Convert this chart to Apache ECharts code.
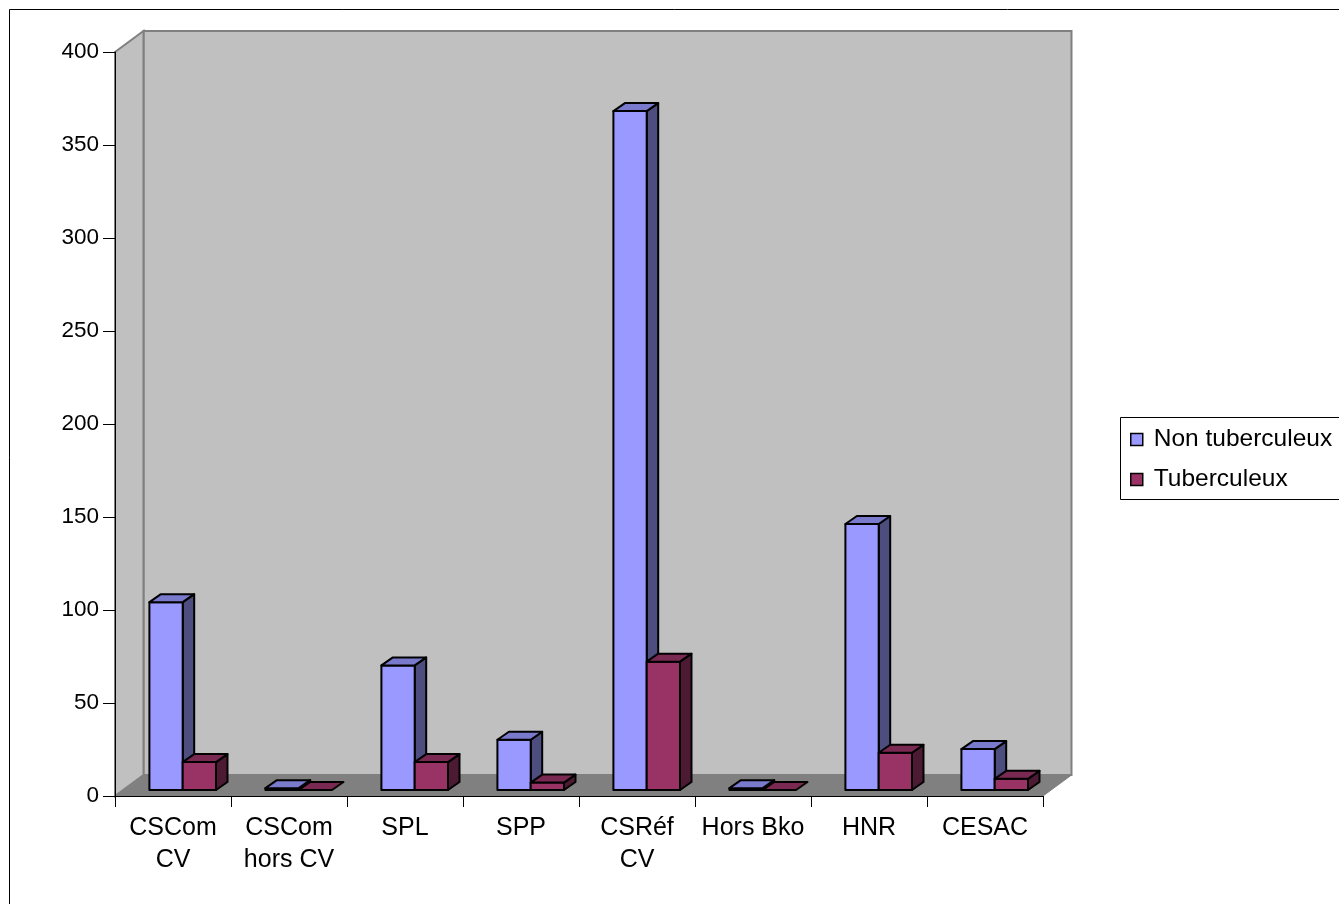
<!DOCTYPE html>
<html>
<head>
<meta charset="utf-8">
<script src="https://cdn.jsdelivr.net/npm/echarts@6/dist/echarts.min.js"></script>
<style>
  html, body { margin: 0; padding: 0; background: #ffffff; }
  #chart { width: 1339px; height: 904px; }
</style>
</head>
<body>
<div id="chart"></div>
<script>
// Patients by care structure
const categories = ['CSCom\nCV', 'CSCom\nhors CV', 'SPL', 'SPP', 'CSRéf\nCV', 'Hors Bko', 'HNR', 'CESAC'];
const seriesNames = ['Non tuberculeux', 'Tuberculeux'];
const nonTuberculeux = [101, 1, 67, 27, 365, 1, 143, 22];
const tuberculeux = [15, 0, 15, 4, 69, 0, 20, 6];
const yMin = 0, yMax = 400, yStep = 50;

// 3D look: wall depth, bar plane offset, bar depth
const WALL_DX = 28.5, WALL_DY = -21;
const BAR_OX = 9.7, BAR_OY = -6;
const BAR_DX = 11.5, BAR_DY = -8;
const BAR_W = 0.287;
const FONT = "'Liberation Sans', Arial, sans-serif";

const palette = [
  { front: '#9999FF', top: '#7A7ACC', side: '#4D4D80' },
  { front: '#993366', top: '#7A2952', side: '#4D1A33' }
];

function renderWalls(params, api) {
  const cs = params.coordSys;
  const x0 = cs.x, x1 = cs.x + cs.width, yT = cs.y, yB = cs.y + cs.height;
  const dx = WALL_DX, dy = WALL_DY;
  return {
    type: 'group',
    children: [
      { type: 'polygon', shape: { points: [[x0 + dx, yT + dy], [x1 + dx, yT + dy], [x1 + dx, yB + dy], [x0 + dx, yB + dy]] },
        style: { fill: '#C0C0C0', stroke: '#808080', lineWidth: 2 } },
      { type: 'polygon', shape: { points: [[x0, yT], [x0 + dx, yT + dy], [x0 + dx, yB + dy], [x0, yB]] },
        style: { fill: '#C0C0C0', stroke: '#808080', lineWidth: 2 } },
      { type: 'polygon', shape: { points: [[x0, yB], [x0 + dx, yB + dy], [x1 + dx, yB + dy], [x1, yB]] },
        style: { fill: '#808080', stroke: '#808080', lineWidth: 1 } }
    ]
  };
}

function barRenderer(slot) {
  const c = palette[slot];
  return function (params, api) {
    const cat = api.value(0), val = api.value(1);
    const base = api.coord([cat, 0]);
    const head = api.coord([cat, val]);
    const w = api.size([1, 0])[0] * BAR_W;
    const xa = base[0] + BAR_OX + (slot - 1) * w;
    const xb = xa + w;
    const yb = base[1] + BAR_OY;
    const yt = head[1] + BAR_OY;
    const dx = BAR_DX, dy = BAR_DY;
    const line = { stroke: '#000', lineWidth: 2, lineJoin: 'round' };
    const kids = [];
    if (yb - yt > 0.1) {
      kids.push({ type: 'polygon', shape: { points: [[xb, yb], [xb + dx, yb + dy], [xb + dx, yt + dy], [xb, yt]] },
        style: Object.assign({ fill: c.side }, line) });
      kids.push({ type: 'polygon', shape: { points: [[xa, yb], [xb, yb], [xb, yt], [xa, yt]] },
        style: Object.assign({ fill: c.front }, line) });
    }
    kids.push({ type: 'polygon', shape: { points: [[xa, yt], [xb, yt], [xb + dx, yt + dy], [xa + dx, yt + dy]] },
      style: Object.assign({ fill: c.top }, line) });
    return { type: 'group', children: kids };
  };
}

const chart = echarts.init(document.getElementById('chart'), null, { renderer: 'canvas' });

chart.setOption({
  animation: false,
  backgroundColor: '#ffffff',
  textStyle: { fontFamily: FONT },
  grid: { left: 115, right: 296, top: 52, bottom: 108, containLabel: false, outerBoundsMode: 'none' },
  xAxis: {
    type: 'category',
    data: categories,
    boundaryGap: true,
    z: 5,
    axisLine: { show: true, lineStyle: { color: '#000', width: 1 } },
    axisTick: { show: true, length: 11, alignWithLabel: false, interval: 0, lineStyle: { color: '#000', width: 1 } },
    axisLabel: { interval: 0, fontSize: 25, lineHeight: 32, margin: 16, color: '#000', fontFamily: FONT },
    splitLine: { show: false }
  },
  yAxis: {
    type: 'value',
    min: yMin, max: yMax, interval: yStep,
    z: 5,
    axisLine: { show: true, lineStyle: { color: '#000', width: 1 } },
    axisTick: { show: true, inside: false, length: 12, lineStyle: { color: '#000', width: 1 } },
    axisLabel: { fontSize: 22.5, margin: 16, color: '#000', fontFamily: FONT },
    splitLine: { show: false }
  },
  legend: {
    orient: 'vertical',
    left: 1130, top: 427,
    padding: 0,
    itemWidth: 12, itemHeight: 12, itemGap: 15,
    icon: 'rect',
    selectedMode: false,
    itemStyle: { borderColor: '#000', borderWidth: 1.5 },
    textStyle: { fontSize: 24.5, lineHeight: 24, color: '#000', fontFamily: FONT, padding: [0, 0, 0, 6] },
    data: seriesNames
  },
  graphic: [
    { type: 'rect', shape: { x: 9.5, y: 9.5, width: 1400, height: 1000 },
      style: { fill: 'none', stroke: '#000', lineWidth: 1 }, silent: true },
    { type: 'rect', shape: { x: 1120.5, y: 417.5, width: 260, height: 82 },
      style: { fill: 'none', stroke: '#000', lineWidth: 1 }, silent: true }
  ],
  series: [
    { type: 'custom', name: 'walls', z: 1, silent: true, renderItem: renderWalls, data: [[0, 0]] },
    { type: 'custom', name: seriesNames[0], z: 2, silent: true, renderItem: barRenderer(0),
      itemStyle: { color: palette[0].front },
      data: nonTuberculeux.map((v, i) => [i, v]) },
    { type: 'custom', name: seriesNames[1], z: 2, silent: true, renderItem: barRenderer(1),
      itemStyle: { color: palette[1].front },
      data: tuberculeux.map((v, i) => [i, v]) }
  ]
});
</script>
</body>
</html>
